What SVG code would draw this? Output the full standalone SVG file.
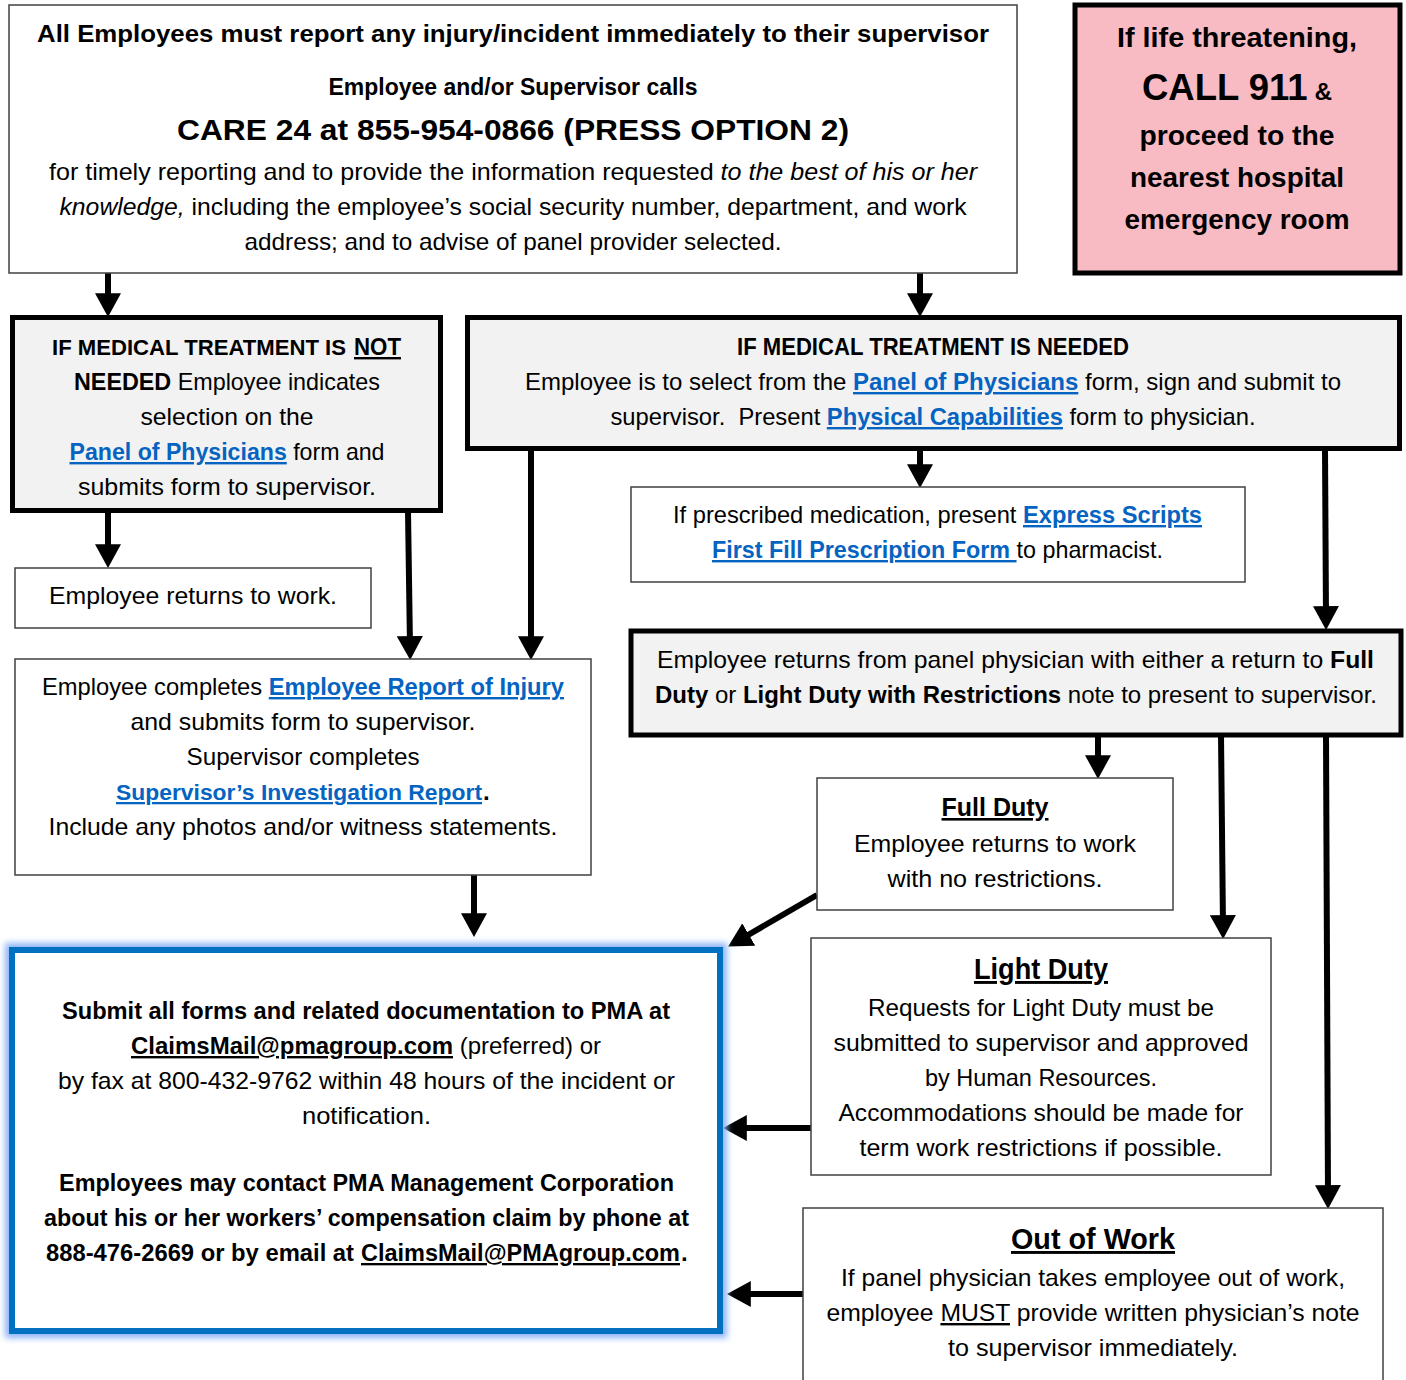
<svg xmlns="http://www.w3.org/2000/svg" width="1406" height="1380" viewBox="0 0 1406 1380">
<style>
text{font-family:"Liberation Sans",Arial,sans-serif;font-size:24px;fill:#000;text-anchor:middle}
.s{text-anchor:start}
.b{font-weight:bold}
.i{font-style:italic}
.u{text-decoration:underline}
.lk{fill:#0563C1;font-weight:bold;text-decoration:underline}
.thin{fill:#fff;stroke:#404040;stroke-width:1.5}
.thick{fill:#f2f2f2;stroke:#000;stroke-width:5}
.conn line{stroke:#000;stroke-width:6;marker-end:url(#ah)}
</style>
<defs>
<marker id="ah" markerUnits="userSpaceOnUse" markerWidth="24" markerHeight="26" viewBox="0 0 22 24" refX="10" refY="12" orient="auto">
<path d="M0,0 L22,12 L0,24 Z" fill="#000"/>
</marker>
<filter id="glow" x="-10%" y="-10%" width="120%" height="120%">
<feGaussianBlur stdDeviation="3"/>
</filter>
</defs>
<rect width="1406" height="1380" fill="#fff"/>

<g id="conn" class="conn">
<line x1="108" y1="273" x2="108" y2="304"/>
<line x1="920" y1="273" x2="920" y2="304"/>
<line x1="108" y1="511" x2="108" y2="555"/>
<line x1="408" y1="511" x2="410" y2="647"/>
<line x1="531" y1="449" x2="531" y2="647"/>
<line x1="920" y1="449" x2="920" y2="475"/>
<line x1="1325" y1="449" x2="1326" y2="617"/>
<line x1="474" y1="875" x2="474" y2="924"/>
<line x1="1098" y1="735" x2="1098" y2="766"/>
<line x1="1221" y1="735" x2="1223" y2="926"/>
<line x1="1326" y1="735" x2="1328" y2="1196"/>
<line x1="817" y1="895" x2="739.4" y2="940"/>
<line x1="811" y1="1128" x2="736" y2="1128"/>
<line x1="803" y1="1294" x2="740" y2="1294"/>
</g>

<g id="top">
<rect class="thin" x="9" y="5" width="1008" height="268"/>
<text x="513" y="42" class="b" textLength="952" lengthAdjust="spacingAndGlyphs">All Employees must report any injury/incident immediately to their supervisor</text>
<text x="513" y="95" class="b" textLength="369" lengthAdjust="spacingAndGlyphs">Employee and/or Supervisor calls</text>
<text x="513" y="140" class="b" style="font-size:29px" textLength="672" lengthAdjust="spacingAndGlyphs">CARE 24 at 855-954-0866 (PRESS OPTION 2)</text>
<text x="513" y="180" textLength="928" lengthAdjust="spacingAndGlyphs">for timely reporting and to provide the information requested <tspan class="i">to the best of his or her</tspan></text>
<text x="513" y="215" textLength="907" lengthAdjust="spacingAndGlyphs"><tspan class="i">knowledge,</tspan> including the employee’s social security number, department, and work</text>
<text x="513" y="250" textLength="537" lengthAdjust="spacingAndGlyphs">address; and to advise of panel provider selected.</text>
</g>

<g id="emergency">
<rect x="1075" y="5" width="325" height="268" fill="#f8bbc3" stroke="#000" stroke-width="5"/>
<text x="1237" y="47" class="b" style="font-size:27px" textLength="240" lengthAdjust="spacingAndGlyphs">If life threatening,</text>
<text x="1237" y="100" class="b" textLength="190" lengthAdjust="spacingAndGlyphs"><tspan style="font-size:36px">CALL 911</tspan> &amp;</text>
<text x="1237" y="145" class="b" style="font-size:27px" textLength="195" lengthAdjust="spacingAndGlyphs">proceed to the</text>
<text x="1237" y="187" class="b" style="font-size:27px" textLength="214" lengthAdjust="spacingAndGlyphs">nearest hospital</text>
<text x="1237" y="229" class="b" style="font-size:27px" textLength="225" lengthAdjust="spacingAndGlyphs">emergency room</text>
</g>

<g id="not-needed">
<rect class="thick" x="12.5" y="317.5" width="428" height="193"/>
<text x="52" y="355" class="b s" style="font-size:21.8px" textLength="294" lengthAdjust="spacingAndGlyphs">IF MEDICAL TREATMENT IS</text>
<text x="354" y="355" class="b u s" textLength="47" lengthAdjust="spacingAndGlyphs">NOT</text>
<text x="227" y="390" textLength="306" lengthAdjust="spacingAndGlyphs"><tspan class="b">NEEDED</tspan> Employee indicates</text>
<text x="227" y="425" textLength="173" lengthAdjust="spacingAndGlyphs">selection on the</text>
<text x="227" y="460" textLength="315" lengthAdjust="spacingAndGlyphs"><tspan class="lk">Panel of Physicians</tspan> form and</text>
<text x="227" y="495" textLength="298" lengthAdjust="spacingAndGlyphs">submits form to supervisor.</text>
</g>

<g id="needed">
<rect class="thick" x="467.5" y="317.5" width="932" height="131"/>
<text x="933" y="355" class="b" textLength="392" lengthAdjust="spacingAndGlyphs">IF MEDICAL TREATMENT IS NEEDED</text>
<text x="933" y="390" textLength="816" lengthAdjust="spacingAndGlyphs">Employee is to select from the <tspan class="lk">Panel of Physicians</tspan> form, sign and submit to</text>
<text x="933" y="425" textLength="645" lengthAdjust="spacingAndGlyphs">supervisor.&#160; Present <tspan class="lk">Physical Capabilities</tspan> form to physician.</text>
</g>

<g id="returns-work">
<rect class="thin" x="15" y="568" width="356" height="60"/>
<text x="193" y="604" textLength="288" lengthAdjust="spacingAndGlyphs">Employee returns to work.</text>
</g>

<g id="prescription">
<rect class="thin" x="631" y="487" width="614" height="95"/>
<text x="937.5" y="523" textLength="529" lengthAdjust="spacingAndGlyphs">If prescribed medication, present <tspan class="lk">Express Scripts</tspan></text>
<text x="937.5" y="558" textLength="451" lengthAdjust="spacingAndGlyphs"><tspan class="lk">First Fill Prescription Form </tspan>to pharmacist.</text>
</g>

<g id="panel-return">
<rect class="thick" x="631" y="631" width="770" height="104"/>
<text x="1015.5" y="668" textLength="717" lengthAdjust="spacingAndGlyphs">Employee returns from panel physician with either a return to <tspan class="b">Full</tspan></text>
<text x="1016" y="703" textLength="722" lengthAdjust="spacingAndGlyphs"><tspan class="b">Duty</tspan> or <tspan class="b">Light Duty with Restrictions</tspan> note to present to supervisor.</text>
</g>

<g id="report">
<rect class="thin" x="15" y="659" width="576" height="216"/>
<text x="303" y="695" textLength="522" lengthAdjust="spacingAndGlyphs">Employee completes <tspan class="lk">Employee Report of Injury</tspan></text>
<text x="303" y="730" textLength="345" lengthAdjust="spacingAndGlyphs">and submits form to supervisor.</text>
<text x="303" y="765" textLength="233" lengthAdjust="spacingAndGlyphs">Supervisor completes</text>
<text x="116" y="800" class="lk s" style="font-size:22.8px" textLength="366" lengthAdjust="spacingAndGlyphs">Supervisor’s Investigation Report</text>
<text x="483" y="800" class="b s">.</text>
<text x="303" y="835" textLength="509" lengthAdjust="spacingAndGlyphs">Include any photos and/or witness statements.</text>
</g>

<g id="full-duty">
<rect class="thin" x="817" y="778" width="356" height="132"/>
<text x="995" y="816" class="b u" style="font-size:26px" textLength="107" lengthAdjust="spacingAndGlyphs">Full Duty</text>
<text x="995" y="852" textLength="282" lengthAdjust="spacingAndGlyphs">Employee returns to work</text>
<text x="995" y="887" textLength="215" lengthAdjust="spacingAndGlyphs">with no restrictions.</text>
</g>

<g id="light-duty">
<rect class="thin" x="811" y="938" width="460" height="237"/>
<text x="1041" y="979" class="b u" style="font-size:29px" textLength="134" lengthAdjust="spacingAndGlyphs">Light Duty</text>
<text x="1041" y="1016" textLength="346" lengthAdjust="spacingAndGlyphs">Requests for Light Duty must be</text>
<text x="1041" y="1051" textLength="415" lengthAdjust="spacingAndGlyphs">submitted to supervisor and approved</text>
<text x="1041" y="1086" textLength="232" lengthAdjust="spacingAndGlyphs">by Human Resources.</text>
<text x="1041" y="1121" textLength="405" lengthAdjust="spacingAndGlyphs">Accommodations should be made for</text>
<text x="1041" y="1156" textLength="363" lengthAdjust="spacingAndGlyphs">term work restrictions if possible.</text>
</g>

<g id="out-of-work">
<rect class="thin" x="803" y="1208" width="580" height="190"/>
<text x="1093" y="1249" class="b u" style="font-size:29px" textLength="164" lengthAdjust="spacingAndGlyphs">Out of Work</text>
<text x="1093" y="1286" textLength="504" lengthAdjust="spacingAndGlyphs">If panel physician takes employee out of work,</text>
<text x="1093" y="1321" textLength="533" lengthAdjust="spacingAndGlyphs">employee <tspan class="u">MUST</tspan> provide written physician’s note</text>
<text x="1093" y="1356" textLength="290" lengthAdjust="spacingAndGlyphs">to supervisor immediately.</text>
</g>

<g id="submit">
<rect x="12" y="950" width="708" height="381" fill="none" stroke="#8db4f7" stroke-width="14" filter="url(#glow)"/>
<rect x="12" y="950" width="708" height="381" fill="#fff" stroke="#0070c0" stroke-width="6"/>
<text x="366" y="1019" class="b" textLength="608" lengthAdjust="spacingAndGlyphs">Submit all forms and related documentation to PMA at</text>
<text x="366" y="1054" textLength="470" lengthAdjust="spacingAndGlyphs"><tspan class="b u">ClaimsMail@pmagroup.com</tspan> (preferred) or</text>
<text x="366.5" y="1089" textLength="617" lengthAdjust="spacingAndGlyphs">by fax at 800-432-9762 within 48 hours of the incident or</text>
<text x="366.5" y="1124" textLength="129" lengthAdjust="spacingAndGlyphs">notification.</text>
<text x="366.5" y="1191" class="b" textLength="615" lengthAdjust="spacingAndGlyphs">Employees may contact PMA Management Corporation</text>
<text x="366.5" y="1226" class="b" textLength="645" lengthAdjust="spacingAndGlyphs">about his or her workers’ compensation claim by phone at</text>
<text x="46" y="1261" class="b s" style="font-size:23px" textLength="308" lengthAdjust="spacingAndGlyphs">888-476-2669 or by email at</text>
<text x="361" y="1261" class="b u s" style="font-size:23.4px" textLength="319" lengthAdjust="spacingAndGlyphs">ClaimsMail@PMAgroup.com</text>
<text x="681" y="1261" class="b s">.</text>
</g>
</svg>
